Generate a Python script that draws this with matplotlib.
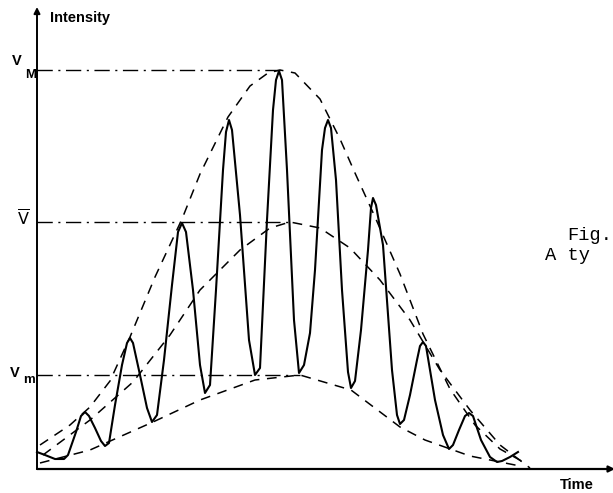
import matplotlib
matplotlib.use("Agg")
import matplotlib.pyplot as plt

plt.rcParams['lines.scale_dashes'] = False
plt.rcParams['mathtext.fontset'] = 'dejavusans'

# fringe signal (time, intensity)
sig_t = [0, 8, 18, 27, 31, 39, 44, 48, 52, 58, 64, 68, 72, 78, 85, 90, 93, 96, 103, 110,
         115, 120, 127, 135, 141, 145, 149, 156, 163, 168, 173, 179, 186, 189, 192, 195,
         203, 212, 218, 223, 230, 236, 239, 242, 245, 250, 257, 262, 267, 273, 278, 285,
         288, 291, 294, 299, 305, 311, 314, 318, 324, 331, 334, 336, 339, 346, 355, 360,
         363, 367, 373, 380, 383, 386, 389, 398, 406, 412, 416, 422, 428, 432, 436, 444,
         453, 460, 465, 473, 481]
sig_i = [17, 14, 10, 10, 14, 37, 53, 57, 53, 41, 28, 23, 26, 64, 104, 126, 131, 126, 94, 61,
         47, 54, 109, 184, 237, 246, 237, 179, 104, 76, 84, 179, 299, 337, 349, 339,
         254, 129, 94, 101, 249, 359, 389, 398, 389, 299, 149, 96, 104, 136, 199, 319,
         341, 349, 341, 289, 179, 97, 81, 88, 139, 219, 261, 271, 264, 224, 99, 54,
         45, 49, 74, 109, 123, 127, 123, 69, 34, 20, 24, 39, 53, 56, 53, 29,
         12, 7, 8, 12, 17]

# envelopes
up_t = [3, 33, 53, 73, 93, 118, 145, 163, 191, 213, 231, 243, 258, 283, 303, 318, 338,
        363, 386, 413, 438, 463, 488]
up_i = [24, 44, 62, 88, 132, 192, 250, 295, 352, 383, 396, 399, 396, 370, 330, 296, 252,
        195, 135, 80, 44, 20, 6]
mid_t = [6, 53, 96, 133, 163, 203, 233, 253, 283, 313, 343, 373, 403, 433, 463, 493]
mid_i = [14, 49, 87, 134, 179, 219, 241, 247, 241, 221, 189, 149, 99, 59, 24, 1]
low_t = [3, 53, 116, 163, 218, 263, 314, 363, 388, 433, 483]
low_i = [6, 19, 47, 69, 89, 94, 79, 42, 29, 13, 3]

# reference levels: (value, end time)
v_max, v_max_end = 399, 243
v_mean, v_mean_end = 247, 256
v_min, v_min_end = 94, 263

fig = plt.figure(figsize=(6.13, 4.93), dpi=100)
ax = fig.add_axes([0, 0, 1, 1])
ax.set_xlim(-37, 576)
ax.set_ylim(-24, 469)
ax.axis('off')

ax.plot(sig_t, sig_i, color='black', lw=1.5, solid_joinstyle='round')

dash = (0, (7, 5.5))
for tt, ii in [(up_t, up_i), (mid_t, mid_i), (low_t, low_i)]:
    ax.plot(tt, ii, color='black', lw=1.1, linestyle=dash)

dashdot = (0, (11, 4, 1.5, 4))
for val, end in [(v_max, v_max_end), (v_mean, v_mean_end), (v_min, v_min_end)]:
    ax.plot([0, end], [val, val], color='black', lw=1.0, linestyle=dashdot)

# axes with arrows
ax.annotate('', xy=(0, 462), xytext=(0, 0),
            arrowprops=dict(arrowstyle='-|>', color='black', lw=1.4,
                            mutation_scale=9, shrinkA=0, shrinkB=0))
ax.annotate('', xy=(578, 0), xytext=(0, 0),
            arrowprops=dict(arrowstyle='-|>', color='black', lw=1.6,
                            mutation_scale=9, shrinkA=0, shrinkB=0),
            annotation_clip=False)

lab = dict(family='Liberation Sans', fontweight='bold', color='black')
ax.text(13, 451, 'Intensity', fontsize=10.5, ha='left', va='center', **lab)
ax.text(523, -16, 'Time', fontsize=10.5, ha='left', va='center', **lab)

ax.text(-20, 408, 'V', fontsize=10.5, ha='center', va='center', **lab)
ax.text(-6, 394, 'M', fontsize=9.5, ha='center', va='center', **lab)
ax.text(-14, 250, r'$\overline{\mathsf{V}}$', fontsize=11.5, ha='center', va='center')
ax.text(-22, 96, 'V', fontsize=10.5, ha='center', va='center', **lab)
ax.text(-8, 89, 'm', fontsize=9.5, ha='center', va='center', **lab)

mono = dict(family='Liberation Mono', fontsize=13.5, color='black', ha='left', va='baseline')
ax.text(530, 229, 'Fig.', **mono)
ax.text(508, 209, 'A ty', **mono)

fig.savefig('out.png', dpi=100)
